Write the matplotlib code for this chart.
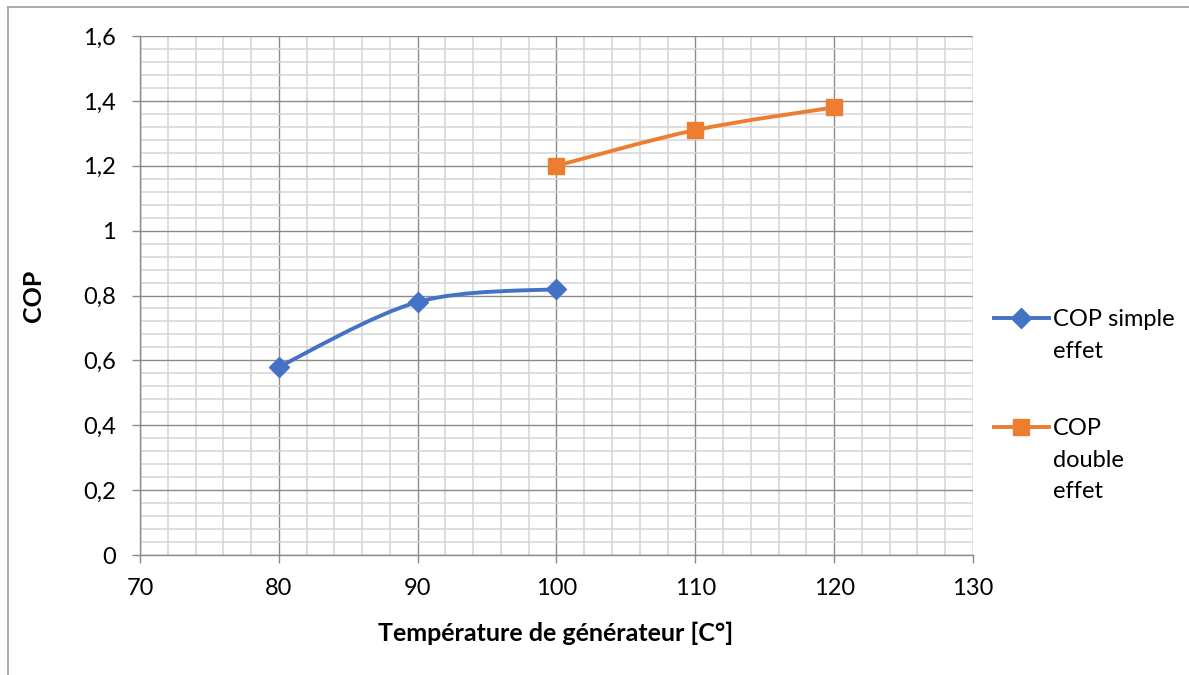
import numpy as np
import matplotlib
matplotlib.use("Agg")
import matplotlib.pyplot as plt
from matplotlib.path import Path
from matplotlib.patches import PathPatch
from matplotlib.lines import Line2D
from matplotlib.ticker import MultipleLocator, FuncFormatter

plt.rcParams['font.family'] = ['Lato', 'DejaVu Sans']

# Data
temp_simple = [80, 90, 100]
cop_simple = [0.58, 0.78, 0.82]
temp_double = [100, 110, 120]
cop_double = [1.20, 1.31, 1.38]

label_simple = "COP simple\neffet"
label_double = "COP\ndouble\neffet"
x_title = "Température de générateur [C°]"
y_title = "COP"

BLUE = "#4472C4"
ORANGE = "#ED7D31"
MAJOR_GRID = "#8a8a8a"
MINOR_GRID = "#d4d4d4"
TICK_FS = 17
TITLE_FS = 18
DIAMOND_MS = 10
SQUARE_MS = 12


def smooth_path(xs, ys):
    """Cubic Bezier path through the points (Catmull-Rom style control points)."""
    pts = np.column_stack([xs, ys]).astype(float)
    ext = np.vstack([pts[0], pts, pts[-1]])
    verts = [tuple(pts[0])]
    codes = [Path.MOVETO]
    for i in range(len(pts) - 1):
        p0, p1, p2, p3 = ext[i], ext[i + 1], ext[i + 2], ext[i + 3]
        c1 = p1 + (p2 - p0) / 6.0
        c2 = p2 - (p3 - p1) / 6.0
        verts += [tuple(c1), tuple(c2), tuple(p2)]
        codes += [Path.CURVE4] * 3
    return Path(verts, codes)


W, H = 1189, 675


def fx(px):
    return px / W


def fy(py):
    return 1 - py / H


fig = plt.figure(figsize=(W / 100, H / 100), dpi=100)
ax = fig.add_axes([fx(140), fy(555), (973 - 140) / W, (555 - 36) / H])

ax.set_xlim(70, 130)
ax.set_ylim(0, 1.6)
ax.xaxis.set_major_locator(MultipleLocator(10))
ax.xaxis.set_minor_locator(MultipleLocator(2))
ax.yaxis.set_major_locator(MultipleLocator(0.2))
ax.yaxis.set_minor_locator(MultipleLocator(0.04))


def comma_fmt(v, pos):
    s = f"{v:.1f}".rstrip("0").rstrip(".")
    return s.replace(".", ",")


ax.yaxis.set_major_formatter(FuncFormatter(comma_fmt))
ax.xaxis.set_major_formatter(FuncFormatter(lambda v, p: f"{v:.0f}"))

ax.grid(which="minor", color=MINOR_GRID, lw=1.1, zorder=0)
ax.grid(which="major", color=MAJOR_GRID, lw=1.0, zorder=0.5)
ax.set_axisbelow(True)
for side in ["top", "right"]:
    ax.spines[side].set_visible(False)
for side in ["left", "bottom"]:
    ax.spines[side].set_color(MAJOR_GRID)
    ax.spines[side].set_linewidth(1.0)

ax.tick_params(which="major", direction="out", length=5.5, width=1.0, color=MAJOR_GRID,
               labelsize=TICK_FS)
ax.tick_params(axis="y", pad=12)
ax.tick_params(axis="x", pad=11)
ax.tick_params(which="minor", length=0)

# Series
series = [(temp_simple, cop_simple, BLUE, "D", DIAMOND_MS),
          (temp_double, cop_double, ORANGE, "s", SQUARE_MS)]
for xs, ys, col, mk, ms in series:
    ax.add_patch(PathPatch(smooth_path(xs, ys), fill=False, edgecolor=col, lw=2.8,
                           capstyle="round", zorder=3))
    ax.plot(xs, ys, ls="none", marker=mk, ms=ms, color=col, mec=col, zorder=4,
            clip_on=False)

ax.set_xlabel(x_title, fontsize=TITLE_FS, fontweight="bold")
ax.xaxis.set_label_coords(fx(556), fy(633), transform=fig.transFigure)
ax.xaxis.label.set_va("center")
ax.set_ylabel(y_title, fontsize=TITLE_FS, fontweight="bold")
ax.yaxis.set_label_coords(fx(33), fy(296), transform=fig.transFigure)
ax.yaxis.label.set_va("center")

# Legend drawn beside the plot area
legend_items = [(BLUE, "D", DIAMOND_MS, 318, label_simple),
                (ORANGE, "s", SQUARE_MS, 427, label_double)]
for col, mk, ms, ypx, txt in legend_items:
    fig.add_artist(Line2D([fx(994), fx(1049)], [fy(ypx), fy(ypx)], color=col, lw=2.8,
                          transform=fig.transFigure))
    fig.add_artist(Line2D([fx(1021)], [fy(ypx)], marker=mk, ms=ms, color=col,
                          transform=fig.transFigure))
    fig.text(fx(1053), fy(ypx - 9), txt, fontsize=TICK_FS, va="top", ha="left",
             linespacing=1.62)

# Chart frame
frame_col = "#a6a6a6"
fig.add_artist(Line2D([fx(8), fx(8)], [fy(7), 0], color=frame_col, lw=1.3,
                      transform=fig.transFigure))
fig.add_artist(Line2D([fx(8), 1], [fy(7), fy(7)], color=frame_col, lw=1.3,
                      transform=fig.transFigure))

fig.savefig("out.png", dpi=100, facecolor="white")
